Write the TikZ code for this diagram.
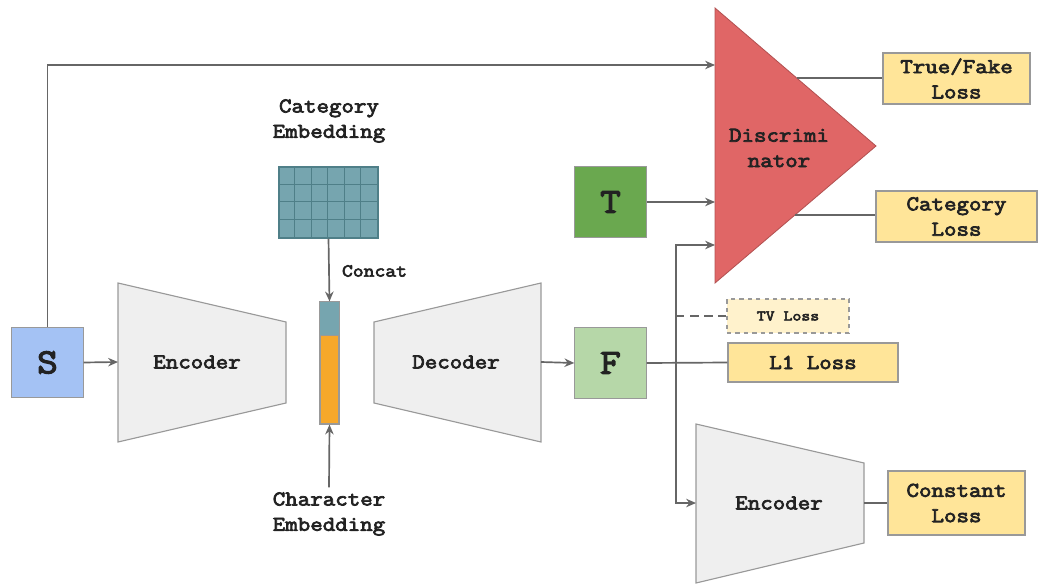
\documentclass[tikz,border=0pt]{standalone}
\usepackage{fontspec}
\setmonofont{Latin Modern Mono}[BoldFont={Latin Modern Mono},BoldFeatures={FakeBold=3.5,FakeStretch=1.15}]
\usepackage{xcolor}
\usepackage{tikz}
\usetikzlibrary{arrows.meta,positioning,calc}

\definecolor{lineg}{HTML}{666666}
\definecolor{edgeg}{HTML}{999999}
\definecolor{trapg}{HTML}{EFEFEF}
\definecolor{sblue}{HTML}{A4C2F4}
\definecolor{tgreen}{HTML}{6AA84F}
\definecolor{fgreen}{HTML}{B6D7A8}
\definecolor{lossy}{HTML}{FFE599}
\definecolor{tvy}{HTML}{FFF2CC}
\definecolor{discred}{HTML}{E06666}
\definecolor{embteal}{HTML}{76A5AF}
\definecolor{embline}{HTML}{4F7F88}
\definecolor{charorange}{HTML}{F6A82B}
\definecolor{txt}{HTML}{222222}

\begin{document}
\begin{tikzpicture}
  [x=0.025cm,y=-0.025cm,
   every node/.style={font=\ttfamily\bfseries\fontsize{15}{18}\selectfont,text=txt,align=center},
   arr/.style={-{Stealth[length=7pt,width=6pt]},draw=lineg,line width=1.2pt},
   conn/.style={draw=lineg,line width=1.2pt},
   trap/.style={draw=edgeg,fill=trapg,line width=0.8pt},
   imgbox/.style={draw=edgeg,line width=0.8pt,minimum width=1.78cm,minimum height=1.76cm,
                  font=\ttfamily\bfseries\fontsize{25}{29}\selectfont},
   lossbox/.style={draw=edgeg,fill=lossy,line width=0.8pt,inner sep=0pt}]
  \useasboundingbox (0,0) rectangle (1038,584);

  % inputs and outputs of the generator
  \node[imgbox,fill=sblue]  (s) at (47.5,362.5) {S};
  \node[imgbox,fill=tgreen] (t) at (610.5,202)  {T};
  \node[imgbox,fill=fgreen] (f) at (610.5,363)  {F};

  % encoder / decoder
  \draw[trap] (118,283) -- (286,322) -- (286,403) -- (118,442) -- cycle;
  \node (enc) at (197,362) {Encoder};
  \draw[trap] (374,322) -- (541,283) -- (541,442) -- (374,403) -- cycle;
  \node (dec) at (456,362) {Decoder};
  \draw[trap] (696,424) -- (864,463) -- (864,543) -- (696,583) -- cycle;
  \node (enc2) at (779,503) {Encoder};
  \coordinate (enc-in)   at (118,362);
  \coordinate (dec-out)  at (541,362);
  \coordinate (enc2-in)  at (696,503);
  \coordinate (enc2-out) at (864,503);

  % embeddings
  \node (catlbl) at (329,121) {Category\\Embedding};
  \node[draw=embline,fill=embteal,line width=0.8pt,minimum width=2.475cm,minimum height=1.775cm,inner sep=0pt]
    (grid) at (328.5,202.5) {};
  \foreach \i in {1,...,5}
    \draw[embline,line width=0.8pt] ($(grid.north west)+(\i*16.5,0)$) -- ($(grid.south west)+(\i*16.5,0)$);
  \foreach \j in {1,2,3}
    \draw[embline,line width=0.8pt] ($(grid.north west)+(0,\j*17.75)$) -- ($(grid.north east)+(0,\j*17.75)$);
  \node[draw=edgeg,fill=charorange,line width=0.8pt,minimum width=0.475cm,minimum height=3.05cm,inner sep=0pt]
    (bar) at (329.5,363) {};
  \fill[embteal] (bar.north west) rectangle ($(bar.north east)+(0,34)$);
  \draw[edgeg,line width=0.8pt] (bar.north west) rectangle (bar.south east);
  \draw[edgeg,line width=0.8pt] ($(bar.north west)+(0,34)$) -- ($(bar.north east)+(0,34)$);
  \node[font=\ttfamily\bfseries\fontsize{13}{16}\selectfont] (concat) at (374.5,271) {Concat};
  \node (charlbl) at (329,514) {Character\\Embedding};

  % discriminator
  \draw[draw=discred!80!black,fill=discred,line width=0.6pt] (715,8) -- (876,146) -- (715,283) -- cycle;
  \node (disc) at (779,148) {Discrimi\\nator};
  \coordinate (d-s)  at (715,65);
  \coordinate (d-t)  at (715,202);
  \coordinate (d-f)  at (715,245);
  \coordinate (d-o1) at (797,78);
  \coordinate (d-o2) at (795,215);

  % losses
  \node[lossbox,minimum width=3.675cm,minimum height=1.275cm] (tfl) at (956.5,78.5)  {True/Fake\\Loss};
  \node[lossbox,minimum width=4.025cm,minimum height=1.275cm] (cal) at (956.5,216.5) {Category\\Loss};
  \node[lossbox,minimum width=4.25cm,minimum height=0.975cm]  (l1)  at (813,362.5)   {L1 Loss};
  \node[lossbox,fill=tvy,dashed,minimum width=3.05cm,minimum height=0.85cm,
        font=\ttfamily\bfseries\fontsize{10.5}{13}\selectfont] (tv) at (788,316) {TV Loss};
  \node[lossbox,minimum width=3.425cm,minimum height=1.6cm]   (col) at (956.5,503)   {Constant\\Loss};

  % connectors
  \draw[arr] (s.east) -- (enc-in);
  \draw[arr] (s.north) |- (d-s);
  \draw[arr] (grid.south) -- (bar.north);
  \draw[arr] (charlbl.north) -- (bar.south);
  \draw[arr] (dec-out) -- (f.west);
  \draw[arr] (t.east) -- (d-t);
  \coordinate (split) at (676,363);
  \draw[conn] (f.east) -- (l1.west);
  \draw[arr] (split) |- (d-f);
  \draw[arr] (split) |- (enc2-in);
  \draw[conn,dash pattern=on 6pt off 4pt] (split |- tv.west) -- (tv.west);
  \draw[conn] (enc2-out) -- (col.west);
  \draw[conn] (d-o1) -- (d-o1 -| tfl.west);
  \draw[conn] (d-o2) -- (d-o2 -| cal.west);
\end{tikzpicture}
\end{document}
